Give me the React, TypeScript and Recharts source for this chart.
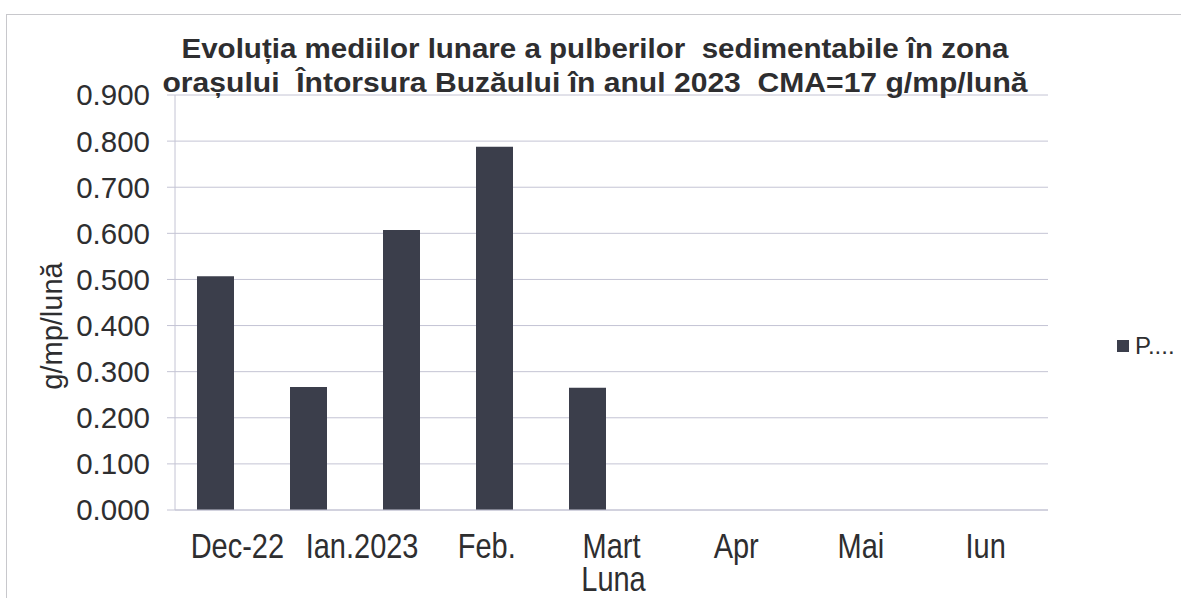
import React from 'react';
import { BarChart, Bar, XAxis, YAxis, CartesianGrid, Legend } from 'recharts';

const months = ['Dec-22', 'Ian.2023', 'Feb.', 'Mart', 'Apr', 'Mai', 'Iun'];
const values: (number | null)[] = [0.507, 0.267, 0.607, 0.788, 0.265, null, null];
const yTicks = [0, 0.1, 0.2, 0.3, 0.4, 0.5, 0.6, 0.7, 0.8, 0.9];
const seriesName = 'P....';
const titleLines = [
  'Evoluția mediilor lunare a pulberilor  sedimentabile în zona',
  'orașului  Întorsura Buzăului în anul 2023  CMA=17 g/mp/lună',
];
const yAxisTitle = 'g/mp/lună';
const xAxisTitle = 'Luna';

const data = months.map((m, i) => ({ month: m, value: values[i] }));

const FONT = '"Liberation Sans", Arial, sans-serif';
const TEXT = '#2e2e30';
const GRID = '#c4c4d4';
const BAR = '#3b3e4b';

const XTick = (props: any) => {
  const { x, y, payload } = props;
  return (
    <g transform={`translate(${x},${y})`}>
      <text
        transform="scale(1,1.18)"
        x={0}
        y={40.5}
        textAnchor="middle"
        fontSize={29}
        fontFamily={FONT}
        fill={TEXT}
      >
        {payload.value}
      </text>
    </g>
  );
};

const XTitle = (props: any) => {
  const vb = props.viewBox || {};
  const cx = vb.x + vb.width / 2 + 2;
  return (
    <g transform={`translate(${cx},${vb.y})`}>
      <text transform="scale(1,1.18)" x={0} y={69} textAnchor="middle" fontSize={29} fontFamily={FONT} fill={TEXT}>
        {xAxisTitle}
      </text>
    </g>
  );
};

const YTitle = () => (
  <text
    transform="translate(62,326) rotate(-90)"
    x={0}
    y={0}
    textAnchor="middle"
    fontSize={29}
    fontFamily={FONT}
    fill={TEXT}
  >
    {yAxisTitle}
  </text>
);

const LegendContent = (props: any) => {
  const payload = props.payload || [];
  return (
    <div style={{ display: 'flex', alignItems: 'center', fontFamily: FONT }}>
      {payload.map((p: any, i: number) => (
        <div key={i} style={{ display: 'flex', alignItems: 'center' }}>
          <div style={{ width: 12, height: 12, background: p.color, marginRight: 6 }} />
          <span style={{ fontSize: 24, color: TEXT, lineHeight: '24px' }}>{p.value}</span>
        </div>
      ))}
    </div>
  );
};

export default function App() {
  return (
    <div
      style={{
        position: 'absolute',
        left: 0,
        top: 0,
        width: 1181,
        height: 598,
        background: '#fff',
        overflow: 'hidden',
      }}
    >
      <div
        style={{
          position: 'absolute',
          left: 6,
          top: 14,
          right: -2,
          bottom: -2,
          borderLeft: '1px solid #c8c8cc',
          borderTop: '1px solid #c8c8cc',
        }}
      />
      <BarChart
        width={1181}
        height={598}
        data={data}
        margin={{ top: 95, right: 133, bottom: 8, left: 0 }}
        style={{ position: 'absolute', left: 0, top: 0 }}
      >
        <CartesianGrid vertical={false} horizontal stroke={GRID} strokeWidth={1} />
        <YAxis
          width={175}
          domain={[0, 0.9]}
          ticks={yTicks}
          interval={0}
          tickFormatter={(v: number) => v.toFixed(3)}
          axisLine={{ stroke: GRID }}
          tickLine={{ stroke: GRID }}
          tickSize={8}
          tickMargin={17}
          tick={{ fontSize: 29.5, fontFamily: FONT, fill: TEXT }}
          label={<YTitle />}
        />
        <XAxis
          dataKey="month"
          height={80}
          interval={0}
          axisLine={{ stroke: GRID }}
          tickLine={false}
          tickSize={0}
          tickMargin={0}
          tick={<XTick />}
          label={<XTitle />}
        />
        <XAxis
          xAxisId="bars"
          dataKey="month"
          hide
          padding={{ left: -6, right: 228 }}
        />
        <Legend
          layout="horizontal"
          align="center"
          verticalAlign="middle"
          content={<LegendContent />}
          wrapperStyle={{ position: 'absolute', left: 1117, top: 334, width: 'auto' }}
        />
        <Bar
          xAxisId="bars"
          dataKey="value"
          name={seriesName}
          fill={BAR}
          barSize={37}
          isAnimationActive={false}
        />
      </BarChart>
      <svg
        width={1181}
        height={100}
        style={{ position: 'absolute', left: 0, top: 0, pointerEvents: 'none' }}
      >
        <text
          x={595}
          y={58}
          textAnchor="middle"
          fontSize={28}
          fontWeight="bold"
          fontFamily={FONT}
          fill={TEXT}
          textLength={827}
          lengthAdjust="spacingAndGlyphs"
          xmlSpace="preserve"
          style={{ whiteSpace: 'pre' }}
        >
          {titleLines[0]}
        </text>
        <text
          x={595}
          y={92}
          textAnchor="middle"
          fontSize={28}
          fontWeight="bold"
          fontFamily={FONT}
          fill={TEXT}
          textLength={865}
          lengthAdjust="spacingAndGlyphs"
          xmlSpace="preserve"
          style={{ whiteSpace: 'pre' }}
        >
          {titleLines[1]}
        </text>
      </svg>
    </div>
  );
}
